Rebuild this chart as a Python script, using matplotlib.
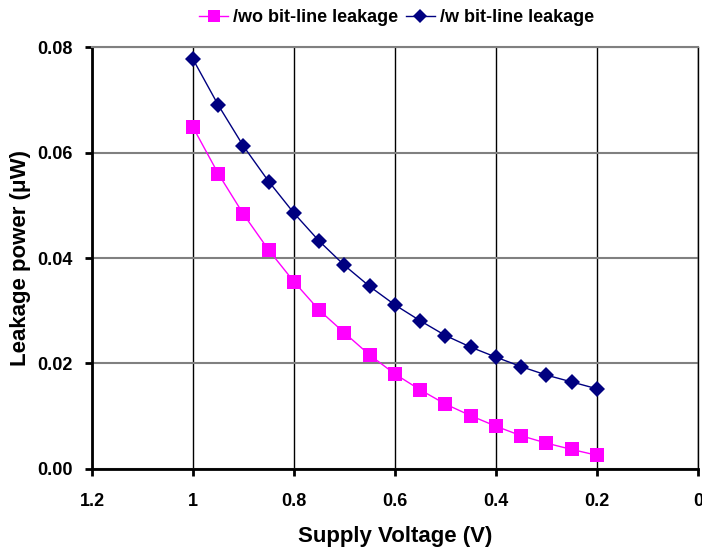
import matplotlib
matplotlib.use("Agg")
import matplotlib.pyplot as plt

plt.rcParams['font.family'] = ['Liberation Sans', 'DejaVu Sans']

voltage = [1.0, 0.95, 0.9, 0.85, 0.8, 0.75, 0.7, 0.65, 0.6,
           0.55, 0.5, 0.45, 0.4, 0.35, 0.3, 0.25, 0.2]
leak_wo = [0.0648, 0.0560, 0.0483, 0.0415, 0.0355, 0.0301, 0.0258, 0.0216, 0.0180,
           0.0150, 0.0123, 0.0101, 0.0081, 0.0063, 0.0049, 0.0037, 0.0026]
leak_w = [0.0777, 0.0690, 0.0612, 0.0545, 0.0485, 0.0432, 0.0386, 0.0346, 0.0311,
          0.0281, 0.0253, 0.0231, 0.0212, 0.0194, 0.0178, 0.0165, 0.0152]
x_ticks = [1.2, 1.0, 0.8, 0.6, 0.4, 0.2, 0.0]
x_labels = ['1.2', '1', '0.8', '0.6', '0.4', '0.2', '0']
y_ticks = [0.0, 0.02, 0.04, 0.06, 0.08]
y_labels = ['0.00', '0.02', '0.04', '0.06', '0.08']

fig = plt.figure(figsize=(7.02, 5.5), dpi=100)
ax = fig.add_axes([0.131, 0.1473, 0.8633, 0.7672])

ax.plot(voltage, leak_wo, color='#FF00FF', lw=1.0, marker='s', markersize=10,
        markeredgewidth=0, label='/wo bit-line leakage', zorder=3)
ax.plot(voltage, leak_w, color='#000080', lw=1.0, marker='D', markersize=8,
        markeredgewidth=0, label='/w bit-line leakage', zorder=4)

ax.set_xlim(1.2, 0.0)
ax.set_ylim(0.0, 0.08)
ax.set_xticks(x_ticks)
ax.set_xticklabels(x_labels)
ax.set_yticks(y_ticks)
ax.set_yticklabels(y_labels)

ax.grid(axis='y', color='#808080', lw=1.5)
ax.grid(axis='x', color='black', lw=1.0)
ax.set_axisbelow(True)

for side in ['left', 'bottom']:
    ax.spines[side].set_linewidth(2.0)
    ax.spines[side].set_color('black')
ax.spines['top'].set_color('#808080')
ax.spines['top'].set_linewidth(1.5)
ax.spines['right'].set_color('black')
ax.spines['right'].set_linewidth(1.0)

ax.tick_params(axis='both', labelsize=13, width=2, length=5, direction='out')
for lbl in ax.get_xticklabels() + ax.get_yticklabels():
    lbl.set_fontweight('bold')
ax.tick_params(axis='x', pad=12)
ax.tick_params(axis='y', pad=9)

ax.set_xlabel('Supply Voltage (V)', fontsize=16, fontweight='bold', labelpad=12)
ax.set_ylabel('Leakage power (μW)', fontsize=16, fontweight='bold', labelpad=4)

leg = fig.legend(loc='upper center', bbox_to_anchor=(0.565, 1.013), ncol=2,
                 frameon=False, prop={'size': 13, 'weight': 'bold'},
                 handlelength=1.6, handletextpad=0.3, columnspacing=0.4,
                 markerscale=0.85)

fig.savefig('out.png', dpi=100)
